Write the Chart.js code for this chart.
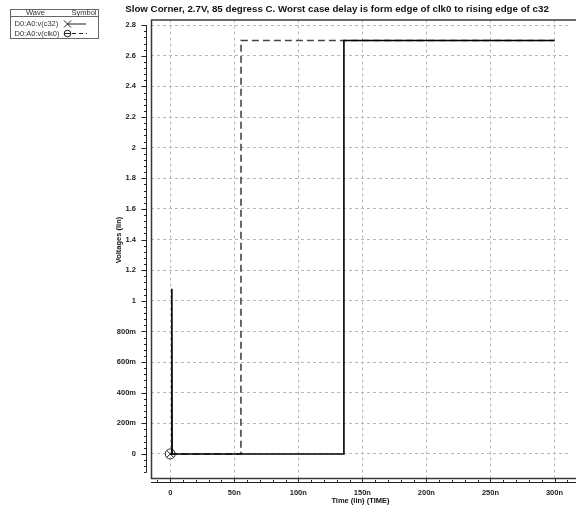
<!DOCTYPE html>
<html><head><meta charset="utf-8">
<script src="https://cdn.jsdelivr.net/npm/chart.js@4"></script>
<style>html,body{margin:0;padding:0;background:#fff}canvas{display:block}</style>
</head><body>
<canvas id="c" width="576" height="505"></canvas>
<script>
// ---- data ----
const timeC32  = [0, 1.1, 1.3, 1.5, 135.3, 135.6, 300];
const voltC32  = [0, 0, 1.078, 0, 0, 2.7, 2.7];
const timeClk0 = [0, 55.2, 55.3, 300];
const voltClk0 = [0, 0, 2.7, 2.7];
const seriesNames = ['D0:A0:v(c32)', 'D0:A0:v(clk0)'];
const xTicks  = [0, 50, 100, 150, 200, 250, 300];
const xLabels = ['0', '50n', '100n', '150n', '200n', '250n', '300n'];
const yTicks  = [0, 0.2, 0.4, 0.6, 0.8, 1, 1.2, 1.4, 1.6, 1.8, 2, 2.2, 2.4, 2.6, 2.8];
const yLabels = ['0', '200m', '400m', '600m', '800m', '1', '1.2', '1.4', '1.6', '1.8', '2', '2.2', '2.4', '2.6', '2.8'];
const titleText  = 'Slow Corner, 2.7V, 85 degress C. Worst case delay is form edge of clk0 to rising edge of c32';
const xTitleText = 'Time (lin) (TIME)';
const yTitleText = 'Voltages (lin)';

const FONT = 'Liberation Sans, Arial, Helvetica, sans-serif';

const decor = {
  id: 'decor',
  beforeDatasetsDraw(chart) {
    const {ctx, chartArea: a, scales: {x, y}} = chart;
    ctx.save();
    // frame
    ctx.strokeStyle = '#3a3a3a';
    ctx.lineWidth = 1.5;
    ctx.beginPath();
    ctx.moveTo(chart.width, a.top + 0.5);
    ctx.lineTo(a.left + 0.5, a.top + 0.5);
    ctx.lineTo(a.left + 0.5, a.bottom + 0.5);
    ctx.lineTo(chart.width, a.bottom + 0.5);
    ctx.stroke();
    // y axis line + ticks
    ctx.lineWidth = 1;
    ctx.strokeStyle = '#222';
    const ax = 146.5;
    ctx.beginPath();
    ctx.moveTo(ax, y.getPixelForValue(2.8));
    ctx.lineTo(ax, y.getPixelForValue(-0.12));
    for (let k = -3; k <= 70; k++) {
      const v = k * 0.04;
      const py = Math.round(y.getPixelForValue(v)) + 0.5;
      const len = (k % 5 === 0) ? 5 : 2.5;
      ctx.moveTo(ax - len, py);
      ctx.lineTo(ax, py);
    }
    ctx.stroke();
    // x axis line + ticks
    const ay = 482.5;
    ctx.beginPath();
    ctx.moveTo(a.left, ay);
    ctx.lineTo(chart.width, ay);
    for (let k = -1; k <= 31; k++) {
      const v = k * 10;
      const px = Math.round(x.getPixelForValue(v)) + 0.5;
      const len = (k % 5 === 0) ? 4 : 2.5;
      ctx.moveTo(px, ay);
      ctx.lineTo(px, ay - len);
    }
    ctx.stroke();
    ctx.restore();
  },
  afterDraw(chart) {
    const {ctx, chartArea: a} = chart;
    const ds = chart.data.datasets;
    ctx.save();
    // title
    ctx.fillStyle = '#111';
    ctx.font = 'bold 8px ' + FONT;
    const w8 = ctx.measureText(titleText).width;
    const fs = 8 * 424 / w8;
    ctx.font = 'bold ' + fs.toFixed(2) + 'px ' + FONT;
    ctx.textAlign = 'center';
    ctx.textBaseline = 'middle';
    ctx.fillText(titleText, 337, 9.5);
    // axis titles
    ctx.font = 'bold 7.5px ' + FONT;
    ctx.fillText(xTitleText, (a.left + a.right) / 2, 500.5);
    ctx.save();
    ctx.translate(119, 240);
    ctx.rotate(-Math.PI / 2);
    ctx.fillText(yTitleText, 0, 0);
    ctx.restore();
    // legend box
    ctx.strokeStyle = '#666';
    ctx.lineWidth = 1;
    ctx.strokeRect(10.5, 9.5, 88, 29);
    ctx.beginPath();
    ctx.moveTo(10.5, 16.5); ctx.lineTo(98.5, 16.5);
    ctx.stroke();
    ctx.fillStyle = '#333';
    ctx.font = '7.5px ' + FONT;
    ctx.textAlign = 'center';
    ctx.fillText('Wave', 35.5, 13);
    ctx.fillText('Symbol', 84, 13);
    ctx.textAlign = 'left';
    const rows = [24, 33.5];
    ds.forEach((d, i) => {
      const ry = rows[i];
      ctx.fillStyle = '#333';
      ctx.fillText(d.label, 14.5, ry);
      ctx.strokeStyle = '#222';
      ctx.lineWidth = 1;
      ctx.beginPath();
      if (i === 0) {
        ctx.moveTo(64, ry - 3.5); ctx.lineTo(71, ry + 3.5);
        ctx.moveTo(71, ry - 3.5); ctx.lineTo(64, ry + 3.5);
        ctx.moveTo(67.5, ry); ctx.lineTo(86, ry);
        ctx.stroke();
      } else {
        ctx.arc(67.5, ry, 3.3, 0, Math.PI * 2);
        ctx.moveTo(64, ry); ctx.lineTo(71, ry);
        ctx.stroke();
        ctx.setLineDash([4, 3]);
        ctx.beginPath();
        ctx.moveTo(72, ry); ctx.lineTo(87, ry);
        ctx.stroke();
        ctx.setLineDash([]);
      }
    });
    ctx.restore();
  }
};

const tickFont = {family: FONT, size: 7.5, weight: 'bold'};

new Chart(document.getElementById('c').getContext('2d'), {
  type: 'line',
  data: {
    datasets: [
      {
        label: seriesNames[0],
        data: timeC32.map((t, i) => ({x: t, y: voltC32[i]})),
        borderColor: '#000', borderWidth: 1.6, tension: 0, fill: false,
        pointStyle: 'crossRot',
        pointRadius: c => c.dataIndex === 0 ? 5 : 0,
        pointBorderColor: '#222', pointBorderWidth: 1,
        pointBackgroundColor: 'rgba(0,0,0,0)'
      },
      {
        label: seriesNames[1],
        data: timeClk0.map((t, i) => ({x: t, y: voltClk0[i]})),
        borderColor: '#444', borderWidth: 1.6, borderDash: [7, 4], tension: 0, fill: false,
        pointStyle: 'circle',
        pointRadius: c => c.dataIndex === 0 ? 5 : 0,
        pointBorderColor: '#333', pointBorderWidth: 1,
        pointBackgroundColor: 'rgba(0,0,0,0)'
      }
    ]
  },
  options: {
    responsive: false, animation: false, devicePixelRatio: 1,
    layout: {padding: {top: 19, left: 0, right: 0, bottom: 0}},
    plugins: {legend: {display: false}, title: {display: false}, tooltip: {enabled: false}},
    scales: {
      x: {
        type: 'linear', min: -15, max: 312.1,
        afterBuildTicks: s => { s.ticks = xTicks.map(v => ({value: v})); },
        afterFit: s => { s.height = 27; },
        grid: {color: '#b8b8b8', lineWidth: 1, drawTicks: false},
        border: {display: false, dash: [3, 3]},
        ticks: {padding: 10, autoSkip: false, maxRotation: 0, font: tickFont, color: '#222',
                callback: (v, i) => xLabels[i]}
      },
      y: {
        type: 'linear', min: -0.157, max: 2.837,
        afterBuildTicks: s => { s.ticks = yTicks.map(v => ({value: v})); },
        afterFit: s => { s.width = 151; },
        grid: {color: '#b8b8b8', lineWidth: 1, drawTicks: false},
        border: {display: false, dash: [3, 3]},
        ticks: {padding: 15, autoSkip: false, font: tickFont, color: '#222',
                callback: (v, i) => yLabels[i]}
      }
    }
  },
  plugins: [decor]
});
</script>
</body></html>
